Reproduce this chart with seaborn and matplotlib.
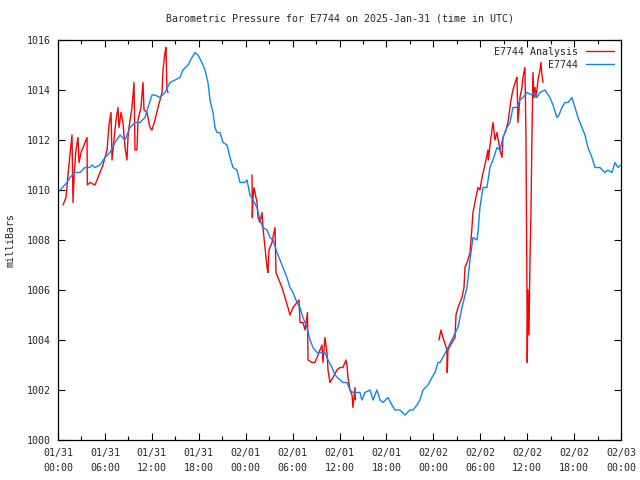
import numpy as np
import pandas as pd
import matplotlib
matplotlib.use("Agg")
import matplotlib.pyplot as plt
from matplotlib.lines import Line2D
from matplotlib.ticker import MultipleLocator
import seaborn as sns

# ---- data (hours since 2025-01-31 00:00 UTC, pressure in mb) ----
obs_hours = [0.0, 1.15, 1.53, 2.17, 2.81, 3.45, 4.09, 4.35, 4.73, 5.37, 6.01, 6.65, 7.29, 7.93, 8.57,
             9.21, 9.85, 10.49, 11.13, 11.51, 12.02, 12.40, 13.04, 13.68, 14.32, 14.96, 15.60, 15.98,
             16.62, 17.14, 17.52, 17.90, 18.41, 18.80, 19.18, 19.44, 19.82, 20.08, 20.33, 20.72, 21.10,
             21.61, 22.00, 22.38, 22.89, 23.27, 23.91, 24.17, 24.55, 24.94, 25.45, 25.83, 26.21, 26.73,
             27.11, 27.49, 28.01, 28.39, 28.77, 29.28, 29.67, 30.05, 30.56, 30.95, 31.33, 31.84, 32.23,
             32.61, 33.12, 33.76, 34.14, 34.53, 35.04, 35.42, 36.06, 36.44, 36.96, 37.34, 37.72, 38.24,
             38.62, 38.87, 39.26, 39.90, 40.28, 40.79, 41.18, 41.56, 42.20, 42.71, 43.09, 43.73, 44.37,
             45.01, 45.40, 45.91, 46.29, 46.68, 47.31, 47.83, 48.21, 48.59, 48.85, 49.40, 49.87, 50.51,
             51.15, 51.66, 52.30, 52.69, 53.07, 53.58, 53.71, 53.96, 54.35, 54.86, 55.24, 55.63, 56.14,
             56.52, 56.91, 57.42, 57.80, 58.18, 58.70, 59.08, 59.46, 59.97, 60.61, 61.00, 61.25, 61.64,
             62.28, 62.92, 63.30, 63.81, 64.07, 64.45, 64.83, 65.22, 65.73, 66.11, 66.50, 67.01, 67.39,
             67.77, 68.29, 68.67, 69.31, 69.95, 70.33, 70.84, 71.23, 71.61, 72.0]
obs_press = [1009.9, 1010.3, 1010.5, 1010.7, 1010.7, 1010.9, 1010.9, 1011.0, 1010.9, 1011.0, 1011.3,
             1011.5, 1011.9, 1012.2, 1012.0, 1012.5, 1012.7, 1012.7, 1012.9, 1013.3, 1013.8, 1013.8,
             1013.7, 1013.9, 1014.3, 1014.4, 1014.5, 1014.8, 1015.0, 1015.3, 1015.5, 1015.4, 1015.1,
             1014.8, 1014.3, 1013.6, 1013.1, 1012.5, 1012.3, 1012.3, 1011.9, 1011.8, 1011.3, 1010.9,
             1010.8, 1010.3, 1010.3, 1010.4, 1009.8, 1009.6, 1009.3, 1008.8, 1008.5, 1008.4, 1008.1,
             1008.0, 1007.5, 1007.2, 1006.9, 1006.5, 1006.1, 1005.9, 1005.5, 1005.3, 1004.9, 1004.5,
             1004.0, 1003.7, 1003.5, 1003.5, 1003.5, 1003.2, 1002.9, 1002.6, 1002.4, 1002.3, 1002.3,
             1002.0, 1001.9, 1001.9, 1001.9, 1001.6, 1001.9, 1002.0, 1001.6, 1002.0, 1001.6, 1001.5,
             1001.7, 1001.4, 1001.2, 1001.2, 1001.0, 1001.2, 1001.2, 1001.4, 1001.6, 1002.0, 1002.2,
             1002.5, 1002.7, 1003.1, 1003.1, 1003.4, 1003.7, 1004.1, 1004.5, 1005.3, 1006.1, 1007.2,
             1008.1, 1008.0, 1008.3, 1009.3, 1010.1, 1010.1, 1010.9, 1011.2, 1011.7, 1011.6, 1012.1,
             1012.5, 1012.7, 1013.3, 1013.3, 1013.6, 1013.7, 1013.9, 1013.8, 1013.9, 1013.7, 1013.9,
             1014.0, 1013.7, 1013.4, 1012.9, 1013.0, 1013.3, 1013.5, 1013.5, 1013.7, 1013.3, 1012.9,
             1012.5, 1012.2, 1011.7, 1011.3, 1010.9, 1010.9, 1010.7, 1010.8, 1010.7, 1011.1, 1010.9,
             1011.0]

ana1_hours = [0.64, 1.02, 1.28, 1.53, 1.79, 1.92, 2.05, 2.30, 2.56, 2.69, 2.94, 3.20, 3.71, 3.75, 4.09,
              4.73, 5.12, 5.75, 6.27, 6.52, 6.78, 6.91, 7.16, 7.42, 7.67, 7.80, 8.06, 8.31, 8.57, 8.82,
              8.95, 9.08, 9.46, 9.72, 9.85, 10.10, 10.23, 10.61, 10.87, 11.00, 11.38, 11.76, 12.02,
              12.40, 12.79, 13.30, 13.43, 13.68, 13.81, 13.94, 14.07]
ana1_press = [1009.4, 1009.7, 1010.6, 1011.4, 1012.2, 1009.5, 1010.5, 1011.6, 1012.1, 1011.1, 1011.5,
              1011.7, 1012.1, 1010.2, 1010.3, 1010.2, 1010.5, 1011.0, 1011.6, 1012.6, 1013.1, 1011.2,
              1012.0, 1012.8, 1013.3, 1012.5, 1013.1, 1012.7, 1011.7, 1011.2, 1012.1, 1012.5, 1013.3,
              1014.3, 1011.6, 1011.6, 1012.8, 1013.3, 1014.3, 1013.2, 1013.1, 1012.5, 1012.4, 1012.8,
              1013.3, 1013.9, 1014.8, 1015.5, 1015.7, 1014.0, 1013.9]

ana2_hours = [24.81, 24.85, 24.94, 25.06, 25.19, 25.45, 25.58, 25.83, 26.09, 26.21, 26.47, 26.73, 26.85,
              26.98, 27.37, 27.49, 27.75, 27.88, 28.13, 28.64, 29.03, 29.41, 29.67, 30.05, 30.56, 30.82,
              30.95, 31.33, 31.59, 31.91, 31.97, 32.48, 32.86, 33.25, 33.76, 33.89, 34.14, 34.40, 34.53,
              34.78, 35.17, 35.68, 36.06, 36.44, 36.83, 36.96, 37.08, 37.34, 37.60, 37.72, 37.98, 38.02]
ana2_press = [1010.6, 1008.9, 1009.7, 1010.1, 1009.9, 1009.5, 1008.9, 1008.7, 1009.1, 1008.5, 1007.7,
              1006.9, 1006.7, 1007.6, 1007.9, 1008.1, 1008.5, 1006.7, 1006.5, 1006.1, 1005.7, 1005.3,
              1005.0, 1005.3, 1005.5, 1005.6, 1004.7, 1004.7, 1004.4, 1005.1, 1003.2, 1003.1, 1003.1,
              1003.4, 1003.8, 1003.1, 1004.1, 1003.5, 1002.8, 1002.3, 1002.5, 1002.8, 1002.9, 1002.9,
              1003.2, 1003.0, 1002.5, 1002.0, 1001.8, 1001.3, 1002.1, 1001.6]

ana3_hours = [48.72, 48.98, 49.23, 49.74, 49.78, 49.87, 50.38, 50.77, 50.90, 51.15, 51.66, 51.92, 52.05,
              52.43, 52.69, 52.94, 53.07, 53.32, 53.71, 53.96, 54.22, 54.60, 54.99, 55.03, 55.37, 55.63,
              55.88, 56.14, 56.52, 56.78, 56.91, 57.29, 57.54, 57.93, 58.18, 58.57, 58.70, 58.82, 59.08,
              59.34, 59.46, 59.72, 59.85, 59.97, 60.01, 60.10, 60.23, 60.36, 60.49, 60.61, 60.74, 60.87,
              61.00, 61.13, 61.25, 61.38, 61.64, 61.76, 61.89, 62.02]
ana3_press = [1004.0, 1004.4, 1004.1, 1003.6, 1002.7, 1003.6, 1003.9, 1004.1, 1005.0, 1005.3, 1005.7,
              1006.1, 1006.9, 1007.2, 1007.5, 1008.5, 1009.1, 1009.5, 1010.1, 1010.0, 1010.5, 1011.0,
              1011.6, 1011.2, 1012.1, 1012.7, 1012.0, 1012.3, 1011.6, 1011.3, 1012.1, 1012.4, 1012.7,
              1013.6, 1014.0, 1014.4, 1014.5, 1012.7, 1013.7, 1014.1, 1014.5, 1014.9, 1012.0, 1006.1,
              1003.1, 1006.0, 1004.2, 1007.2, 1009.2, 1012.1, 1014.7, 1013.7, 1014.1, 1013.7, 1014.0,
              1014.4, 1014.8, 1015.1, 1014.6, 1014.3]

xtick_hours = [0, 6, 12, 18, 24, 30, 36, 42, 48, 54, 60, 66, 72]
xtick_labels = ["01/31\n00:00", "01/31\n06:00", "01/31\n12:00", "01/31\n18:00",
                "02/01\n00:00", "02/01\n06:00", "02/01\n12:00", "02/01\n18:00",
                "02/02\n00:00", "02/02\n06:00", "02/02\n12:00", "02/02\n18:00",
                "02/03\n00:00"]
ytick_values = [1000, 1002, 1004, 1006, 1008, 1010, 1012, 1014, 1016]

title_text = "Barometric Pressure for E7744 on 2025-Jan-31 (time in UTC)"
ylabel_text = "milliBars"
label_ana = "E7744 Analysis"
label_obs = "E7744"

# ---- build frames ----
df_obs = pd.DataFrame({"hours": obs_hours, "press": obs_press})
df_ana = pd.concat([
    pd.DataFrame({"hours": ana1_hours, "press": ana1_press, "seg": 1}),
    pd.DataFrame({"hours": ana2_hours, "press": ana2_press, "seg": 2}),
    pd.DataFrame({"hours": ana3_hours, "press": ana3_press, "seg": 3}),
], ignore_index=True)

sns.set_style("white")
plt.rcParams["font.family"] = ["DejaVu Sans Mono", "DejaVu Sans"]
FS = 7.2
plt.rcParams["font.size"] = FS

RED = "#ff0000"
BLUE = "#0a84ff"

fig = plt.figure(figsize=(6.4, 4.8), dpi=100)
ax = fig.add_axes([58 / 640, 1 - 440 / 480, (621 - 58) / 640, 400 / 480])

sns.lineplot(data=df_ana, x="hours", y="press", units="seg", estimator=None,
             color=RED, lw=1.0, ax=ax, legend=False, sort=False)
sns.lineplot(data=df_obs, x="hours", y="press", color=BLUE, lw=1.0, ax=ax,
             legend=False, sort=False)

ax.set_xlim(0, 72)
ax.set_ylim(1000, 1016)
ax.set_xticks(xtick_hours)
ax.set_xticklabels(xtick_labels, linespacing=1.55)
ax.xaxis.set_minor_locator(MultipleLocator(3))
ax.set_yticks(ytick_values)
ax.set_yticklabels([str(v) for v in ytick_values])
ax.tick_params(which="both", direction="in", top=True, right=True, bottom=True, left=True,
               color="black", labelsize=FS)
ax.tick_params(axis="x", which="major", pad=6)
ax.tick_params(axis="y", which="major", pad=5)
ax.tick_params(which="major", length=5, width=0.8)
ax.tick_params(which="minor", length=3, width=0.8)
for s in ax.spines.values():
    s.set_color("black")
    s.set_linewidth(0.9)
ax.set_xlabel("")
ax.set_ylabel(ylabel_text, fontsize=FS, labelpad=8)
ax.set_title(title_text, fontsize=FS, pad=13)

handles = [Line2D([], [], color=RED, lw=1.0), Line2D([], [], color=BLUE, lw=1.0)]
ax.legend(handles, [label_ana, label_obs], loc="upper right", frameon=False,
          markerfirst=False, fontsize=FS, handlelength=2.8, handletextpad=0.8,
          labelspacing=0.3, borderaxespad=0.3)

fig.savefig("out.png", dpi=100)
